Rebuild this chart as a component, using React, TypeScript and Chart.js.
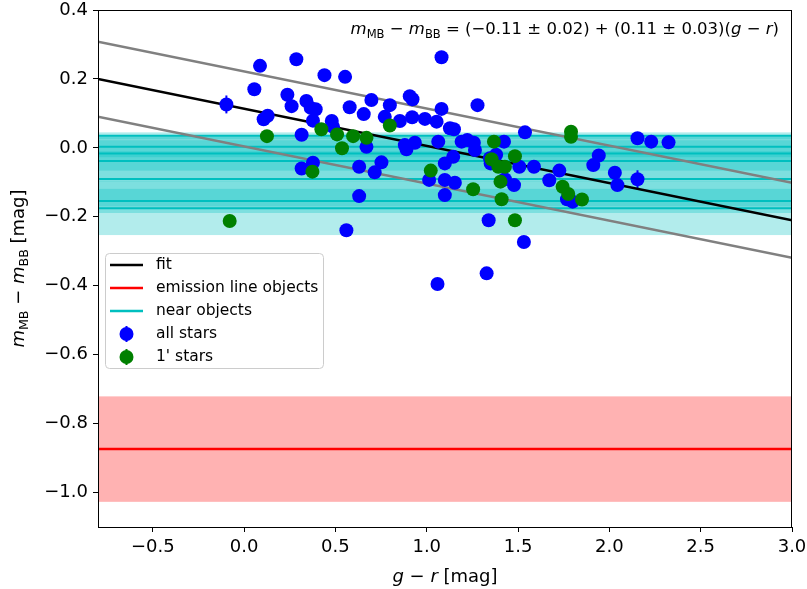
import React, { useEffect, useRef } from "react";
import { Chart, registerables } from "chart.js";

Chart.register(...registerables);

const FONT = "'DejaVu Sans', 'Liberation Sans', sans-serif";

// Axis ranges and ticks
const X_MIN = -0.8;
const X_MAX = 3.0;
const Y_MIN = -1.1;
const Y_MAX = 0.4;
const X_TICKS = [-0.5, 0.0, 0.5, 1.0, 1.5, 2.0, 2.5, 3.0];
const Y_TICKS = [-1.0, -0.8, -0.6, -0.4, -0.2, 0.0, 0.2, 0.4];

// all stars (blue)
const ALL_X = [
  -0.097, 0.087, 0.056, 0.129, 0.107, 0.286, 0.237, 0.26, 0.341, 0.365,
  0.392, 0.377, 0.44, 0.553, 0.48, 0.487, 0.315, 0.578, 0.655, 0.697,
  0.798, 0.77, 0.853, 0.907, 0.922, 0.92, 0.99, 1.054, 1.081, 1.081,
  1.063, 0.88, 0.889, 0.935, 0.67, 0.63, 0.752, 0.715, 0.315, 0.377,
  0.63, 1.013, 1.099, 1.099, 1.099, 1.127, 0.56, 1.059, 1.278, 1.149,
  1.191, 1.222, 1.258, 1.423, 1.264, 1.145, 1.154, 1.346, 1.507, 1.587,
  1.478, 1.538, 1.726, 1.671, 1.912, 1.942, 2.03, 2.044, 2.154, 2.154,
  2.229, 2.324, 1.339, 1.532, 1.328, 1.768, 1.799, 1.428, 1.35, 1.38,
];
const ALL_Y = [
  0.126, 0.238, 0.17, 0.093, 0.083, 0.257, 0.154, 0.121, 0.136, 0.116,
  0.112, 0.079, 0.211, 0.206, 0.078, 0.061, 0.038, 0.118, 0.098, 0.139,
  0.124, 0.09, 0.078, 0.15, 0.141, 0.089, 0.084, 0.076, 0.113, 0.263,
  0.018, 0.008, -0.004, 0.015, 0.003, -0.055, -0.042, -0.071, -0.06, -0.043,
  -0.14, -0.093, -0.045, -0.093, -0.137, 0.057, -0.239, -0.395, 0.124, 0.054,
  0.018, 0.023, 0.015, 0.018, -0.006, -0.026, -0.101, -0.03, -0.055, -0.055,
  -0.108, 0.045, -0.066, -0.094, -0.05, -0.022, -0.072, -0.108, -0.091, 0.028,
  0.018, 0.016, -0.21, -0.273, -0.364, -0.149, -0.156, -0.091, -0.045, -0.02,
];
const ALL_ERR = [
  0.026, 0.01, 0.01, 0.01, 0.01, 0.01, 0.01, 0.01, 0.01, 0.01,
  0.01, 0.01, 0.01, 0.01, 0.01, 0.01, 0.01, 0.01, 0.01, 0.01,
  0.01, 0.01, 0.01, 0.01, 0.022, 0.01, 0.01, 0.01, 0.01, 0.01,
  0.01, 0.01, 0.01, 0.01, 0.01, 0.01, 0.01, 0.01, 0.01, 0.01,
  0.01, 0.01, 0.01, 0.01, 0.01, 0.01, 0.01, 0.01, 0.01, 0.01,
  0.01, 0.01, 0.01, 0.01, 0.01, 0.01, 0.01, 0.01, 0.01, 0.01,
  0.01, 0.01, 0.01, 0.01, 0.01, 0.01, 0.01, 0.01, 0.026, 0.01,
  0.01, 0.018, 0.01, 0.01, 0.01, 0.01, 0.01, 0.01, 0.01, 0.01,
];

// 1' stars (green)
const ONE_X = [
  0.125, 0.423, 0.509, 0.597, 0.67, 0.536, 0.798, 0.374, 1.022, -0.079,
  1.368, 1.79, 1.79, 1.355, 1.392, 1.428, 1.483, 1.404, 1.254, 1.41,
  1.483, 1.744, 1.775, 1.85,
];
const ONE_Y = [
  0.034, 0.054, 0.039, 0.034, 0.029, -0.001, 0.065, -0.069, -0.066, -0.212,
  0.018, 0.047, 0.032, -0.033, -0.055, -0.055, -0.024, -0.098, -0.12, -0.149,
  -0.21, -0.113, -0.134, -0.15,
];

// Fit line and scatter envelope (end points at the x-range limits)
const FIT_X = [-0.8, 3.0];
const FIT_Y = [0.2, -0.21];
const UPPER_Y = [0.308, -0.101];
const LOWER_Y = [0.09, -0.319];

// Emission line objects
const EMISSION_VALUE = -0.874;
const EMISSION_ERR = 0.153;

// Near objects
const NEAR_VALUES = [0.035, 0.003, -0.016, -0.038, -0.09, -0.154, -0.175];
const NEAR_ERRS = [0.01, 0.03, 0.05, 0.06, 0.08, 0.035, 0.078];

const CYAN = "#00bfbf";
const BLUE = "#0000ff";
const GREEN = "#008000";
const RED = "#ff0000";
const GRAY = "#808080";

const fmt = (v: number) => {
  const s = (Math.abs(v) < 1e-9 ? 0 : v).toFixed(1);
  return s.replace("-", "\u2212");
};

type Part = [string, "n" | "i" | "s"];

function drawMath(
  ctx: CanvasRenderingContext2D,
  parts: Part[],
  x: number,
  y: number,
  size: number,
  align: "left" | "center" | "right"
) {
  const fontFor = (st: string) =>
    st === "i"
      ? `italic ${size}px ${FONT}`
      : st === "s"
      ? `${size * 0.7}px ${FONT}`
      : `${size}px ${FONT}`;
  let total = 0;
  const widths: number[] = [];
  for (const [t, st] of parts) {
    ctx.font = fontFor(st);
    const w = ctx.measureText(t).width;
    widths.push(w);
    total += w;
  }
  let cx = align === "left" ? x : align === "center" ? x - total / 2 : x - total;
  ctx.textAlign = "left";
  ctx.textBaseline = "alphabetic";
  parts.forEach(([t, st], i) => {
    ctx.font = fontFor(st);
    const dy = st === "s" ? size * 0.22 : 0;
    ctx.fillText(t, cx, y + dy);
    cx += widths[i];
  });
}

const bandsPlugin = {
  id: "bands",
  beforeDatasetsDraw(chart: any) {
    const { ctx, chartArea: a, scales } = chart;
    const ys = scales.y;
    const xs = scales.x;
    ctx.save();
    ctx.beginPath();
    ctx.rect(a.left, a.top, a.right - a.left, a.bottom - a.top);
    ctx.clip();
    ctx.fillStyle = "rgba(0,191,191,0.3)";
    NEAR_VALUES.forEach((v, i) => {
      const t = ys.getPixelForValue(v + NEAR_ERRS[i]);
      const b = ys.getPixelForValue(v - NEAR_ERRS[i]);
      ctx.fillRect(a.left, t, a.right - a.left, b - t);
    });
    ctx.fillStyle = "rgba(255,0,0,0.3)";
    {
      const t = ys.getPixelForValue(EMISSION_VALUE + EMISSION_ERR);
      const b = ys.getPixelForValue(EMISSION_VALUE - EMISSION_ERR);
      ctx.fillRect(a.left, t, a.right - a.left, b - t);
    }
    // error bars of all stars
    ctx.strokeStyle = BLUE;
    ctx.lineWidth = 2;
    ALL_X.forEach((x, i) => {
      const px = xs.getPixelForValue(x);
      const t = ys.getPixelForValue(ALL_Y[i] + ALL_ERR[i]);
      const b = ys.getPixelForValue(ALL_Y[i] - ALL_ERR[i]);
      ctx.beginPath();
      ctx.moveTo(px, t);
      ctx.lineTo(px, b);
      ctx.stroke();
    });
    ctx.restore();
  },
  afterDraw(chart: any) {
    const { ctx, chartArea: a } = chart;
    ctx.save();
    // frame
    ctx.strokeStyle = "#000";
    ctx.lineWidth = 1;
    ctx.strokeRect(
      Math.round(a.left) + 0.5,
      Math.round(a.top) + 0.5,
      Math.round(a.right - a.left) - 1,
      Math.round(a.bottom - a.top)
    );
    ctx.fillStyle = "#000";
    // equation
    drawMath(
      ctx,
      [
        ["m", "i"],
        ["MB", "s"],
        [" \u2212 ", "n"],
        ["m", "i"],
        ["BB", "s"],
        [" = (\u22120.11 \u00b1 0.02) + (0.11 \u00b1 0.03)(", "n"],
        ["g", "i"],
        [" \u2212 ", "n"],
        ["r", "i"],
        [")", "n"],
      ],
      779,
      34,
      16.5,
      "right"
    );
    // x title
    drawMath(
      ctx,
      [
        ["g", "i"],
        [" \u2212 ", "n"],
        ["r", "i"],
        [" [mag]", "n"],
      ],
      (a.left + a.right) / 2,
      582,
      18,
      "center"
    );
    // y title
    ctx.save();
    ctx.translate(24, (a.top + a.bottom) / 2);
    ctx.rotate(-Math.PI / 2);
    drawMath(
      ctx,
      [
        ["m", "i"],
        ["MB", "s"],
        [" \u2212 ", "n"],
        ["m", "i"],
        ["BB", "s"],
        [" [mag]", "n"],
      ],
      0,
      0,
      18,
      "center"
    );
    ctx.restore();

    // legend
    const lx = 105.5,
      ly = 253.5,
      lw = 218,
      lh = 115;
    ctx.beginPath();
    (ctx as any).roundRect(lx, ly, lw, lh, 4);
    ctx.fillStyle = "rgba(255,255,255,0.8)";
    ctx.fill();
    ctx.strokeStyle = "#cccccc";
    ctx.lineWidth = 1;
    ctx.stroke();
    const entries: [string, string, string][] = [
      ["fit", "line", "#000000"],
      ["emission line objects", "line", RED],
      ["near objects", "line", CYAN],
      ["all stars", "point", BLUE],
      ["1' stars", "point", GREEN],
    ];
    entries.forEach(([label, kind, color], i) => {
      const y = 265 + i * 23;
      if (kind === "line") {
        ctx.strokeStyle = color;
        ctx.lineWidth = 2.5;
        ctx.beginPath();
        ctx.moveTo(110, y);
        ctx.lineTo(143, y);
        ctx.stroke();
      } else {
        ctx.strokeStyle = color;
        ctx.lineWidth = 2;
        ctx.beginPath();
        ctx.moveTo(126.5, y - 8);
        ctx.lineTo(126.5, y + 8);
        ctx.stroke();
        ctx.fillStyle = color;
        ctx.beginPath();
        ctx.arc(126.5, y, 7, 0, Math.PI * 2);
        ctx.fill();
      }
      ctx.fillStyle = "#000";
      ctx.font = `15.5px ${FONT}`;
      ctx.textAlign = "left";
      ctx.textBaseline = "middle";
      ctx.fillText(label, 156, y);
    });
    ctx.restore();
  },
};

export default function App() {
  const ref = useRef<HTMLCanvasElement | null>(null);
  useEffect(() => {
    if (!ref.current) return;
    Chart.defaults.font.family = FONT;
    const lineDs = (
      xs: number[],
      ys: number[],
      color: string,
      order: number,
      width: number
    ) => ({
      type: "scatter" as const,
      data: xs.map((x, i) => ({ x, y: ys[i] })),
      showLine: true,
      borderColor: color,
      backgroundColor: color,
      borderWidth: width,
      pointRadius: 0,
      order,
    });
    const datasets: any[] = [
      {
        label: "1' stars",
        data: ONE_X.map((x, i) => ({ x, y: ONE_Y[i] })),
        backgroundColor: GREEN,
        borderWidth: 0,
        pointRadius: 7,
        order: 0,
      },
      {
        label: "all stars",
        data: ALL_X.map((x, i) => ({ x, y: ALL_Y[i] })),
        backgroundColor: BLUE,
        borderWidth: 0,
        pointRadius: 7,
        order: 1,
      },
      lineDs(FIT_X, FIT_Y, "#000000", 2, 2.5),
      lineDs(FIT_X, UPPER_Y, GRAY, 3, 2.5),
      lineDs(FIT_X, LOWER_Y, GRAY, 3, 2.5),
      lineDs([X_MIN, X_MAX], [EMISSION_VALUE, EMISSION_VALUE], RED, 4, 2.5),
      ...NEAR_VALUES.map((v) => lineDs([X_MIN, X_MAX], [v, v], CYAN, 5, 2)),
    ];
    const tickFont = { family: FONT, size: 18 };
    const chart = new Chart(ref.current, {
      type: "scatter",
      data: { datasets },
      plugins: [bandsPlugin],
      options: {
        responsive: false,
        animation: false,
        devicePixelRatio: 1,
        events: [],
        layout: { padding: { top: 10, right: 15, left: 0, bottom: 0 } },
        plugins: { legend: { display: false }, tooltip: { enabled: false } },
        scales: {
          x: {
            type: "linear",
            min: X_MIN,
            max: X_MAX,
            afterBuildTicks: (s: any) => {
              s.ticks = X_TICKS.map((v) => ({ value: v }));
            },
            afterFit: (s: any) => {
              s.height = 62;
              s.paddingLeft = 0;
              s.paddingRight = 0;
            },
            ticks: {
              callback: (v: any) => fmt(Number(v)),
              font: tickFont,
              color: "#000",
              padding: 5,
              autoSkip: false,
              maxRotation: 0,
            },
            grid: {
              drawOnChartArea: false,
              drawTicks: true,
              tickLength: 5,
              color: "#000",
            },
            border: { color: "#000", width: 1 },
          },
          y: {
            type: "linear",
            min: Y_MIN,
            max: Y_MAX,
            afterBuildTicks: (s: any) => {
              s.ticks = Y_TICKS.map((v) => ({ value: v }));
            },
            afterFit: (s: any) => {
              s.width = 98;
              s.paddingTop = 0;
              s.paddingBottom = 0;
            },
            ticks: {
              callback: (v: any) => fmt(Number(v)),
              font: tickFont,
              color: "#000",
              padding: 5,
              autoSkip: false,
            },
            grid: {
              drawOnChartArea: false,
              drawTicks: true,
              tickLength: 5,
              color: "#000",
            },
            border: { color: "#000", width: 1 },
          },
        },
      } as any,
    });
    return () => chart.destroy();
  }, []);
  return (
    <div style={{ position: "fixed", left: 0, top: 0, width: 807, height: 589, background: "#fff" }}>
      <canvas ref={ref} width={807} height={589} style={{ display: "block" }} />
    </div>
  );
}
